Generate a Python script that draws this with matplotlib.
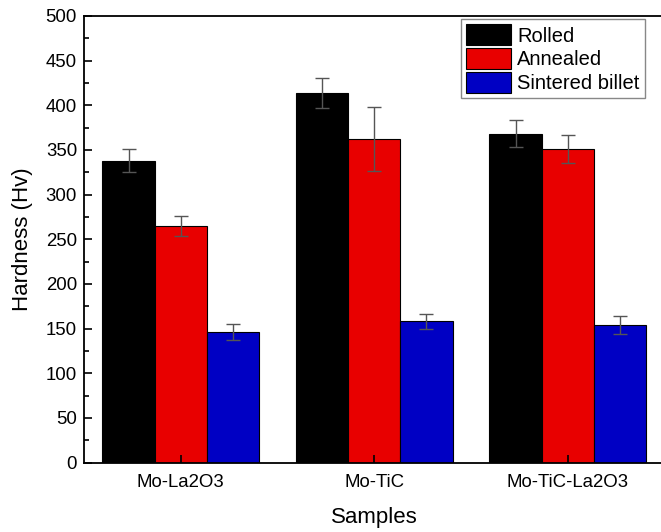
import numpy as np
import matplotlib
matplotlib.use("Agg")
import matplotlib.pyplot as plt
from matplotlib.ticker import MultipleLocator

plt.rcParams['font.family'] = ['Liberation Sans', 'DejaVu Sans']

# data
samples = ["Mo-La2O3", "Mo-TiC", "Mo-TiC-La2O3"]
rolled = [338, 414, 368]
rolled_err = [13, 17, 15]
annealed = [265, 362, 351]
annealed_err = [11, 36, 16]
sintered = [146, 158, 154]
sintered_err = [9, 8, 10]

x = np.arange(1, len(samples) + 1)
w = 0.27

fig = plt.figure(figsize=(6.61, 5.32), dpi=100)
ax = fig.add_axes([84/661, (532-462.5)/532, 580.5/661, 446.5/532])

err_kw = dict(ecolor='#555555', elinewidth=1, capsize=5, capthick=1)
ax.bar(x - w, rolled, w, yerr=rolled_err, color='black', edgecolor='black',
       linewidth=0.8, label='Rolled', error_kw=err_kw)
ax.bar(x, annealed, w, yerr=annealed_err, color='#e80000', edgecolor='black',
       linewidth=0.8, label='Annealed', error_kw=err_kw)
ax.bar(x + w, sintered, w, yerr=sintered_err, color='#0000c4', edgecolor='black',
       linewidth=0.8, label='Sintered billet', error_kw=err_kw)

ax.set_xlim(0.5, 3.5)
ax.set_ylim(0, 500)
ax.set_xticks(x)
ax.set_xticklabels(samples)
ax.yaxis.set_major_locator(MultipleLocator(50))
ax.yaxis.set_minor_locator(MultipleLocator(25))
ax.tick_params(axis='both', which='both', direction='in', labelsize=13.4)
ax.tick_params(axis='y', which='major', length=6, width=1.2, pad=5)
ax.tick_params(axis='y', which='minor', length=3.5, width=1.2)
ax.tick_params(axis='x', which='major', length=6, width=1.2, pad=8)
for s in ax.spines.values():
    s.set_linewidth(1.3)

ax.set_xlabel("Samples", fontsize=16, labelpad=12)
ax.set_ylabel("Hardness (Hv)", fontsize=16, labelpad=9)

leg = ax.legend(loc='upper right', bbox_to_anchor=(0.966, 0.993),
                fontsize=14.5, handlelength=2.25, handleheight=1.25,
                labelspacing=0.12, handletextpad=0.3, borderpad=0.25,
                borderaxespad=0, fancybox=False, framealpha=1)
leg.get_frame().set_edgecolor('#888888')
leg.get_frame().set_linewidth(1)

plt.savefig("out.png", dpi=100)
